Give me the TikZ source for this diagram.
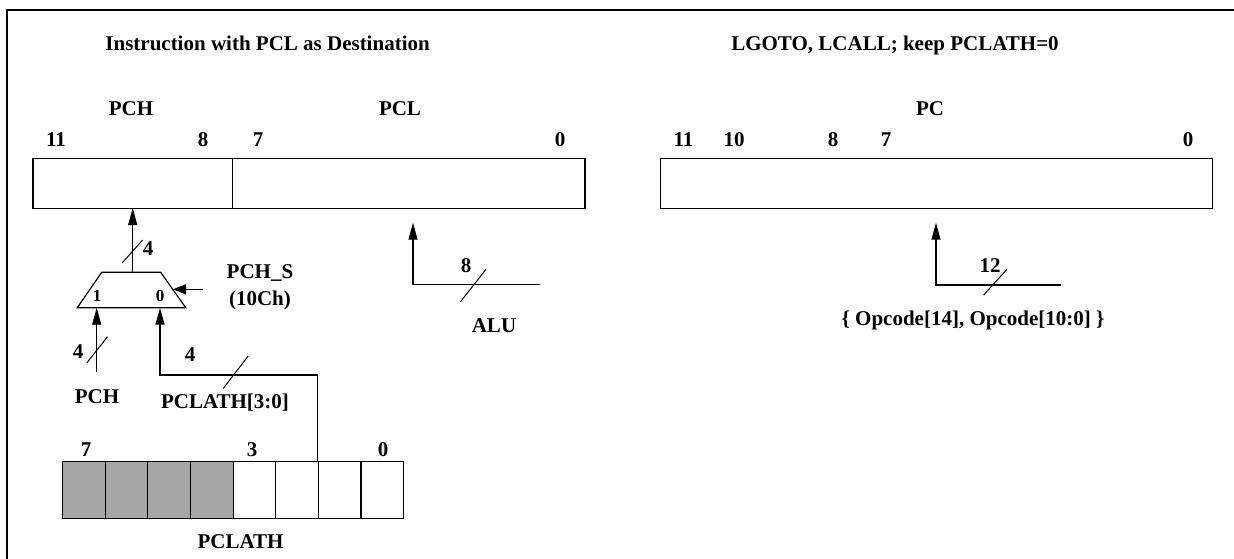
\documentclass[tikz,border=0pt]{standalone}
\usepackage{fontspec}
\setmainfont{Liberation Serif}
\usetikzlibrary{arrows.meta}
\definecolor{cellgray}{HTML}{A6A6A6}
\begin{document}
\begin{tikzpicture}[x=1pt,y=-1pt,line width=1.2pt,
  lbl/.style={font=\fontsize{21}{21}\selectfont\bfseries,inner sep=0pt,anchor=base},
  smalllbl/.style={font=\fontsize{17}{17}\selectfont\bfseries,inner sep=0pt,anchor=base},
  regbox/.style={draw,line width=1.2pt,inner sep=0pt,anchor=north west},
  varr/.style={-{Triangle[length=17pt,width=9pt]}},
  harr/.style={-{Triangle[length=13pt,width=10pt]}},
  busslash/.style={line width=1pt},
  cell/.style={draw,line width=1.2pt,inner sep=0pt,anchor=north west,minimum width=42.625pt,minimum height=57pt}]
\useasboundingbox (0,0) rectangle (1234,558);
\draw[line width=2.2pt] (6.8,560) -- (6.8,10) -- (1236,10);

% titles
\node[lbl] (t1) at (267.6,50) {Instruction with PCL as Destination};
\node[lbl] (t2) at (895,50) {LGOTO, LCALL; keep PCLATH=0};

% left register
\node[lbl] (lpch) at (131,115) {PCH};
\node[lbl] (lpcl) at (400,115) {PCL};
\node[lbl] (b11) at (56,146) {11};
\node[lbl] (b8) at (203,146) {8};
\node[lbl] (b7) at (258,146) {7};
\node[lbl] (b0) at (560,146) {0};
\node[regbox,minimum width=552pt,minimum height=50pt] (pcreg) at (32.3,158) {};
\draw (pcreg.north west) ++(200.4,0) coordinate (dtop) -- (dtop |- pcreg.south);
\coordinate (pchin) at (132.7,208);
\coordinate (pclin) at (413,222.7);

% mux
\coordinate (mtl) at (101.7,272.3);
\coordinate (mtr) at (160.7,272.3);
\coordinate (mbr) at (185.7,307.7);
\coordinate (mbl) at (77.3,307.7);
\draw (mtl) -- (mtr) -- (mbr) -- (mbl) -- cycle;
\coordinate (mout) at (132.7,272.3);
\coordinate (min1) at (96.7,307.7);
\coordinate (min0) at (160,307.7);
\coordinate (msel) at (173,289.3);
\node[smalllbl] (m1) at (97,301.7) {1};
\node[smalllbl] (m0) at (160,301.7) {0};

\draw[varr] (mout) -- (pchin);
\draw[busslash] (122.3,262.7) -- (142.7,240);
\node[lbl] (w4a) at (148,255) {4};

\coordinate (selsrc) at (203.3,289.3);
\draw[harr] (selsrc) -- (msel);
\node[lbl] (pchs) at (260,278) {PCH\_S};
\node[lbl] (pchsa) at (260,305) {(10Ch)};

\coordinate (pchsrc) at (96.7,371.7);
\draw[varr] (pchsrc) -- (min1);
\draw[busslash] (87,362.7) -- (107.5,336.7);
\node[lbl] (w4b) at (78,358) {4};
\node[lbl] (pchlbl) at (97,403) {PCH};

% PCLATH register
\foreach \i in {0,...,7}{
  \ifnum\i<4
    \node[cell,fill=cellgray] (c\i) at (62+42.625*\i,461) {};
  \else
    \node[cell] (c\i) at (62+42.625*\i,461) {};
  \fi
}
\draw[varr] (c6.north west) |- (min0 |- 0,375) -- (min0);
\draw[busslash] (223.3,388.3) -- (248.2,356);
\node[lbl] (w4c) at (190,361) {4};
\node[lbl] (pclathsub) at (225,408) {PCLATH[3:0]};
\node[lbl] (p7) at (86,456) {7};
\node[lbl] (p3) at (252,456) {3};
\node[lbl] (p0) at (383,456) {0};
\node[lbl] (pclath) at (240.5,548) {PCLATH};

% ALU
\coordinate (alusrc) at (539.5,284.3);
\draw[varr] (alusrc) -| (pclin);
\draw[busslash] (460.5,301.7) -- (486,269.3);
\node[lbl] (w8) at (466,272) {8};
\node[lbl] (alu) at (494,332) {ALU};

% right register
\node[lbl] (pc) at (930,115) {PC};
\node[lbl] (r11) at (683.5,146) {11};
\node[lbl] (r10) at (734,146) {10};
\node[lbl] (r8) at (833,146) {8};
\node[lbl] (r7) at (886,146) {7};
\node[lbl] (r0) at (1188,146) {0};
\node[regbox,minimum width=552pt,minimum height=50pt] (pcbox) at (660,158) {};
\coordinate (pcin) at (936,222.7);
\coordinate (opsrc) at (1061,285);
\draw[varr] (opsrc) -| (pcin);
\draw[busslash] (983.6,295) -- (1007,269.3);
\node[lbl] (w12) at (990,272) {12};
\node[lbl] (op) at (973,325) {\{ Opcode[14], Opcode[10:0] \}};
\end{tikzpicture}
\end{document}
